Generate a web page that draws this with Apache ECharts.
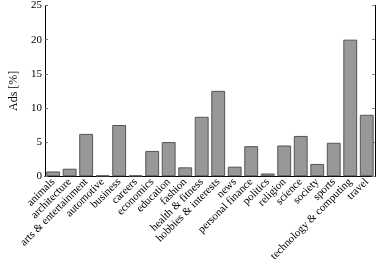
<!DOCTYPE html>
<html><head><meta charset="utf-8">
<script src="https://cdn.jsdelivr.net/npm/echarts@6/dist/echarts.min.js"></script>
<style>html,body{margin:0;padding:0;background:#fff}#c{width:378px;height:264px}</style>
</head><body><div id="c"></div>
<script>
const categories = ["animals","architecture","arts & entertainment","automotive","business","careers","economics","education","fashion","health & fitness","hobbies & interests","news","personal finance","politics","religion","science","society","sports","technology & computing","travel"];
const values = [0.7,1.1,6.2,0.1,7.5,0.1,3.7,5.0,1.3,8.7,12.5,1.4,4.4,0.4,4.5,5.9,1.8,4.9,20.0,9.0];
const yTicks = [0,5,10,15,20,25];
const font = "Liberation Serif";
const chart = echarts.init(document.getElementById('c'), null, {renderer:'canvas'});
chart.setOption({
  animation:false,
  grid:{left:29,right:3,top:5,bottom:86,containLabel:false},
  xAxis:[{
    type:'category', data:categories,
    axisLine:{lineStyle:{color:'#000',width:1}},
    axisTick:{alignWithLabel:true,inside:true,length:3,lineStyle:{color:'#444'}},
    axisLabel:{rotate:45,interval:0,fontFamily:font,fontSize:11,color:'#000',margin:4}
  },{
    type:'category', data:categories, position:'top',
    axisLine:{show:true,lineStyle:{color:'#000',width:1}},
    axisTick:{alignWithLabel:true,inside:true,length:3,lineStyle:{color:'#666'}},
    axisLabel:{show:false}
  }],
  yAxis:[{
    type:'value', min:yTicks[0], max:yTicks[yTicks.length-1], interval:5,
    name:'Ads [%]', nameLocation:'middle', nameGap:17,
    nameTextStyle:{fontFamily:font,fontSize:12,color:'#000'},
    axisLine:{show:true,lineStyle:{color:'#000',width:1}},
    axisTick:{show:true,inside:true,length:3,lineStyle:{color:'#666'}},
    axisLabel:{fontFamily:font,fontSize:11,color:'#000',margin:3},
    splitLine:{show:false}
  },{
    type:'value', min:yTicks[0], max:yTicks[yTicks.length-1], interval:5, position:'right',
    axisLine:{show:true,lineStyle:{color:'#000',width:1}},
    axisTick:{show:true,inside:true,length:3,lineStyle:{color:'#888'}},
    axisLabel:{show:false},
    splitLine:{show:false}
  }],
  series:[{
    type:'bar', data:values, barCategoryGap:'16%',
    itemStyle:{color:'#989898',borderColor:'#555',borderWidth:1}
  }]
});
</script></body></html>
